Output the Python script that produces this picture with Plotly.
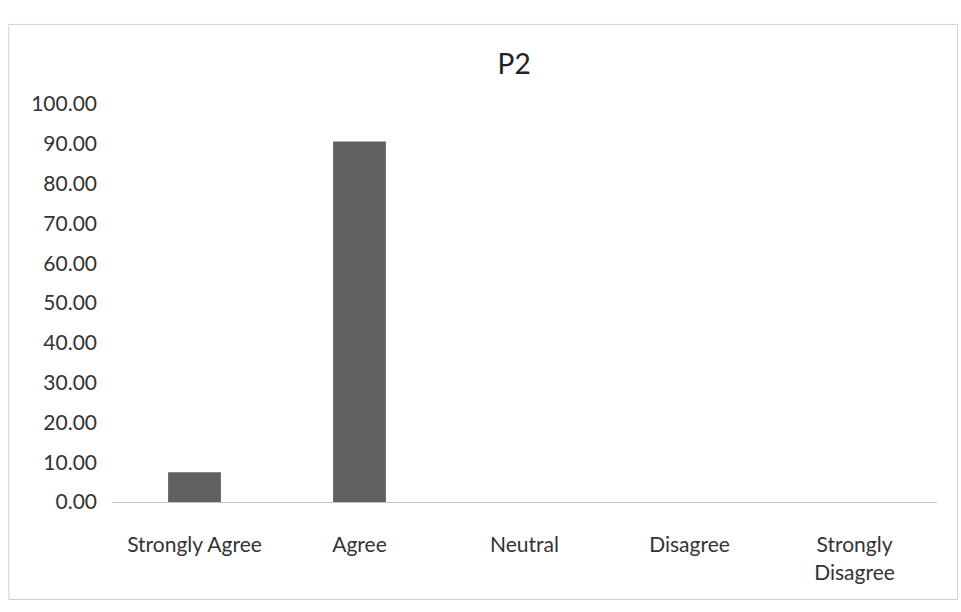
import plotly.graph_objects as go

categories = ["Strongly Agree", "Agree", "Neutral", "Disagree", "Strongly<br>Disagree"]
values = [7.5, 90.6, 0, 0, 0]
tick_vals = [0, 10, 20, 30, 40, 50, 60, 70, 80, 90, 100]

fig = go.Figure(
    go.Bar(
        x=categories,
        y=values,
        marker=dict(color="#616161", line=dict(width=0)),
        width=0.32,
    )
)

fig.update_layout(
    width=961,
    height=612,
    paper_bgcolor="white",
    plot_bgcolor="white",
    margin=dict(l=112, r=24, t=104, b=110),
    title=dict(
        text="P2",
        x=0.535,
        xanchor="center",
        y=0.895,
        yanchor="middle",
        font=dict(family="Lato", size=28, color="#222"),
    ),
    font=dict(family="Lato", color="#333"),
    showlegend=False,
)

fig.update_yaxes(
    range=[0, 100],
    tickvals=tick_vals,
    tickformat=".2f",
    showgrid=False,
    zeroline=False,
    showline=False,
    ticks="",
    ticklabelstandoff=14,
    tickfont=dict(family="Lato", size=21, color="#333"),
)
fig.update_xaxes(
    showgrid=False,
    showline=True,
    linecolor="#c4c4c4",
    linewidth=1,
    ticks="",
    ticklabelstandoff=24,
    tickfont=dict(family="Lato", size=21, color="#333"),
)

# faint outer frame of the chart area
fig.add_shape(
    type="rect", xref="paper", yref="paper",
    x0=-0.125, x1=1.025, y0=-0.245, y1=1.2,
    line=dict(color="#d0d0d0", width=1),
)

fig.write_html("out.html")
